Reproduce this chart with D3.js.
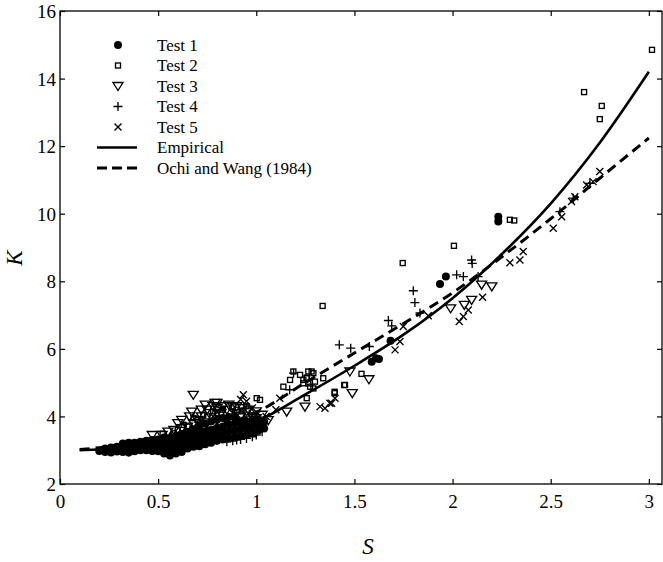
<!DOCTYPE html>
<html>
<head>
<meta charset="utf-8">
<script src="https://cdn.jsdelivr.net/npm/d3@7"></script>
<style>
  html, body { margin: 0; padding: 0; background: #fff; }
  svg { display: block; }
  text { font-family: "Liberation Serif", "Times New Roman", serif; fill: #000; }
</style>
</head>
<body>
<svg id="chart" width="663" height="562"></svg>
<script>
// ---------------- DATA ----------------
const xTicks = [0, 0.5, 1, 1.5, 2, 2.5, 3];
const xTickLabels = ["0", "0.5", "1", "1.5", "2", "2.5", "3"];
const yTicks = [2, 4, 6, 8, 10, 12, 14, 16];
const yTickLabels = ["2", "4", "6", "8", "10", "12", "14", "16"];

const seriesNames = ["Test 1", "Test 2", "Test 3", "Test 4", "Test 5", "Empirical", "Ochi and Wang (1984)"];

// Test 1 (filled circles) [S, K]
const test1 = [
  [0.20,2.98],[0.23,2.95],[0.23,3.05],[0.26,2.93],[0.26,3.08],[0.29,2.96],[0.29,3.1],
  [0.32,2.95],[0.32,3.08],[0.32,3.2],[0.35,2.93],[0.35,3.05],[0.35,3.22],[0.38,2.97],[0.38,3.1],[0.38,3.22],
  [0.41,3.0],[0.41,3.12],[0.41,3.25],[0.44,3.0],[0.44,3.12],[0.44,3.28],[0.47,2.98],[0.47,3.15],[0.47,3.3],
  [0.50,2.97],[0.50,3.12],[0.50,3.32],[0.53,2.9],[0.53,3.05],[0.53,3.2],[0.53,3.38],
  [0.56,2.84],[0.56,2.98],[0.56,3.15],[0.56,3.35],[0.59,2.9],[0.59,3.05],[0.59,3.22],[0.59,3.42],
  [0.62,2.95],[0.62,3.1],[0.62,3.28],[0.62,3.48],[0.65,3.05],[0.65,3.2],[0.65,3.36],[0.65,3.55],
  [0.68,3.1],[0.68,3.25],[0.68,3.42],[0.68,3.62],[0.71,3.12],[0.71,3.3],[0.71,3.5],[0.71,3.7],
  [0.74,3.18],[0.74,3.35],[0.74,3.55],[0.74,3.78],[0.77,3.22],[0.77,3.4],[0.77,3.6],[0.77,3.85],
  [0.80,3.28],[0.80,3.45],[0.80,3.65],[0.80,3.9],[0.83,3.32],[0.83,3.5],[0.83,3.7],[0.83,3.95],
  [0.86,3.35],[0.86,3.55],[0.86,3.75],[0.86,3.98],[0.89,3.38],[0.89,3.58],[0.89,3.8],[0.89,4.0],
  [0.92,3.42],[0.92,3.62],[0.92,3.82],[0.95,3.45],[0.95,3.65],[0.95,3.85],[0.98,3.5],[0.98,3.7],[0.98,3.9],
  [1.01,3.58],[1.01,3.75],[1.01,3.92],[1.04,3.65],[1.04,3.85],
  [1.588,5.62],[1.61,5.72],[1.625,5.70],[1.684,6.24],[1.936,7.92],[1.966,8.14],[2.233,9.91],[2.233,9.77]
];
// Test 2 (open squares)
const test2 = [
  [0.523,3.49],[0.58,3.5],[0.60,3.6],[0.63,3.75],[0.65,3.7],[0.68,3.95],[0.70,3.9],[0.73,4.05],[0.75,4.0],
  [0.78,4.15],[0.80,4.1],[0.83,4.2],[0.85,3.9],[0.88,4.3],[0.90,4.2],[0.93,4.15],[0.95,4.3],[0.98,4.0],
  [1.002,4.54],[1.019,4.49],[1.138,4.88],[1.172,5.08],[1.189,5.33],[1.223,5.23],[1.24,4.98],[1.24,5.08],[1.257,5.13],
  [1.257,5.15],[1.257,4.54],[1.265,5.33],[1.265,4.98],[1.274,4.88],[1.282,5.33],[1.291,5.28],[1.291,4.83],[1.299,5.03],
  [1.341,5.13],[1.40,4.69],[1.452,4.93],[1.338,7.27],[1.399,4.73],[1.448,4.93],[1.536,5.26],
  [1.746,8.54],[2.007,9.05],[2.292,9.82],[2.314,9.80],[2.67,13.6],[2.76,13.19],[2.75,12.8],[3.016,14.85]
];
// Test 3 (open down-triangles)
const test3 = [
  [0.47,3.45],[0.52,3.45],[0.55,3.55],[0.58,3.6],[0.60,3.8],[0.62,3.65],[0.62,3.9],[0.65,3.7],[0.66,4.0],[0.671,4.14],
  [0.679,4.64],[0.68,3.8],[0.70,3.9],[0.72,4.0],[0.72,4.2],[0.74,4.35],[0.75,4.2],[0.76,4.1],[0.78,4.3],[0.79,4.4],
  [0.80,4.25],[0.80,4.4],[0.82,4.1],[0.83,4.3],[0.85,4.2],[0.85,3.9],[0.86,4.35],[0.88,4.3],[0.90,4.1],[0.90,4.3],
  [0.92,4.0],[0.93,4.25],[0.95,4.15],[0.96,4.2],[0.98,4.0],[1.00,3.95],[1.00,4.15],[1.03,4.05],
  [1.061,3.89],[1.155,4.14],[1.248,4.29],[1.477,5.33],[1.489,4.69],[1.574,5.1],
  [1.99,7.2],[2.06,7.3],[2.097,7.45],[2.148,7.9],[2.20,7.85]
];
// Test 4 (plus)
const test4 = [
  [0.30,3.0],[0.35,2.95],[0.40,3.05],[0.45,3.05],[0.50,3.0],[0.55,3.05],[0.60,3.1],[0.60,3.4],[0.65,3.15],[0.70,3.2],
  [0.70,3.5],[0.75,3.25],[0.75,3.6],[0.80,3.3],[0.80,3.7],[0.85,3.25],[0.88,3.28],[0.90,3.3],[0.92,3.32],[0.95,3.35],
  [0.98,3.4],[1.00,3.45],[1.03,3.55],
  [1.17,4.79],[1.19,5.28],[1.423,6.12],[1.481,6.02],[1.576,6.07],[1.673,6.84],[1.69,6.68],[1.80,7.72],[1.808,7.37],
  [1.834,7.06],[2.021,8.19],[2.055,8.14],[2.097,8.63],[2.10,8.53],[2.13,8.14],[2.547,10.06],[2.615,10.46],[2.70,10.9]
];
// Test 5 (crosses)
const test5 = [
  [0.50,3.3],[0.55,3.4],[0.60,3.5],[0.65,3.55],[0.70,3.6],[0.72,3.85],[0.75,3.7],[0.78,4.0],[0.80,3.8],[0.82,4.2],
  [0.85,3.85],[0.88,4.1],[0.90,3.9],[0.92,4.5],[0.934,4.64],[0.95,4.45],[0.95,3.95],[0.98,4.25],[1.00,3.9],
  [1.05,4.0],[1.10,4.2],[1.12,4.54],
  [1.325,4.29],[1.35,4.24],[1.375,4.39],[1.384,4.39],[1.401,4.54],[1.707,5.97],[1.732,6.22],[1.749,6.66],[1.876,6.98],
  [2.034,6.81],[2.055,6.96],[2.08,7.15],[2.153,7.53],[2.292,8.55],[2.343,8.63],[2.36,8.88],[2.513,9.57],[2.556,9.91],
  [2.606,10.36],[2.623,10.5],[2.683,10.85],[2.716,10.95],[2.75,11.25]
];
// Empirical curve
const empirical = [
  [0.1,3.0],[0.3,3.06],[0.5,3.18],[0.75,3.45],[1.0,3.85],[1.25,4.65],[1.5,5.5],[1.75,6.42],
  [2.0,7.5],[2.25,8.8],[2.5,10.3],[2.75,12.1],[3.0,14.2]
];
// Ochi and Wang (1984) curve
const ochiWang = [
  [0.1,3.02],[0.5,3.3],[0.75,3.62],[1.0,4.12],[1.25,5.0],[1.5,5.88],[1.75,6.75],[2.0,7.66],
  [2.25,8.72],[2.5,9.85],[2.75,11.05],[3.0,12.24]
];

// ---------------- CHART ----------------
const svg = d3.select("#chart");
const mLeft = 60, mRight = 662, mTop = 11, mBottom = 484;
const x = d3.scaleLinear().domain([0, 3.067]).range([mLeft, mRight]);
const y = d3.scaleLinear().domain([2, 16]).range([mBottom, mTop]);

const fontTick = 19;

// frame
svg.append("rect").attr("x", mLeft).attr("y", mTop).attr("width", mRight - mLeft).attr("height", mBottom - mTop)
  .attr("fill", "none").attr("stroke", "#000").attr("stroke-width", 1.3);

// axes (inward ticks)
const gx = svg.append("g").attr("transform", `translate(0,${mBottom})`)
  .call(d3.axisBottom(x).tickValues(xTicks).tickSize(-5).tickFormat((d, i) => xTickLabels[i]).tickPadding(11));
const gxTop = svg.append("g").attr("transform", `translate(0,${mTop})`)
  .call(d3.axisTop(x).tickValues(xTicks).tickSize(-5).tickFormat(""));
const gy = svg.append("g").attr("transform", `translate(${mLeft},0)`)
  .call(d3.axisLeft(y).tickValues(yTicks).tickSize(-5).tickFormat((d, i) => yTickLabels[i]).tickPadding(4));
const gyR = svg.append("g").attr("transform", `translate(${mRight},0)`)
  .call(d3.axisRight(y).tickValues(yTicks).tickSize(-5).tickFormat(""));
[gx, gxTop, gy, gyR].forEach(g => {
  g.select(".domain").remove();
  g.selectAll(".tick line").attr("stroke", "#000").attr("stroke-width", 1.2);
  g.selectAll("text").style("font-family", '"Liberation Serif", serif').style("font-size", fontTick + "px").attr("fill", "#000");
});
gy.selectAll("text").attr("dy", "0.35em");

// axis labels
svg.append("text").attr("x", 368).attr("y", 554).attr("text-anchor", "middle")
  .style("font-size", "23px").style("font-style", "italic").text("S");
svg.append("text").attr("transform", "translate(22,258) rotate(-90)").attr("text-anchor", "middle")
  .style("font-size", "23px").style("font-style", "italic").text("K");

// curves
const line = d3.line().x(d => x(d[0])).y(d => y(d[1])).curve(d3.curveMonotoneX);
svg.append("path").datum(empirical).attr("d", line).attr("fill", "none").attr("stroke", "#000").attr("stroke-width", 2.6);
svg.append("path").datum(ochiWang).attr("d", line).attr("fill", "none").attr("stroke", "#000").attr("stroke-width", 3)
  .attr("stroke-dasharray", "10,6");

// marker drawing helpers
const sw = 1.35;
function drawCircle(g, cx, cy) {
  g.append("circle").attr("cx", cx).attr("cy", cy).attr("r", 4).attr("fill", "#000");
}
function drawSquare(g, cx, cy) {
  g.append("rect").attr("x", cx - 2.5).attr("y", cy - 2.5).attr("width", 5).attr("height", 5)
    .attr("fill", "none").attr("stroke", "#000").attr("stroke-width", sw);
}
function drawTri(g, cx, cy) {
  const s = 5;
  g.append("path").attr("d", `M${cx - s},${cy - s * 0.7}L${cx + s},${cy - s * 0.7}L${cx},${cy + s * 0.9}Z`)
    .attr("fill", "none").attr("stroke", "#000").attr("stroke-width", sw);
}
function drawPlus(g, cx, cy) {
  const s = 4.5;
  g.append("path").attr("d", `M${cx - s},${cy}L${cx + s},${cy}M${cx},${cy - s}L${cx},${cy + s}`)
    .attr("stroke", "#000").attr("stroke-width", sw);
}
function drawX(g, cx, cy) {
  const s = 3.5;
  g.append("path").attr("d", `M${cx - s},${cy - s}L${cx + s},${cy + s}M${cx - s},${cy + s}L${cx + s},${cy - s}`)
    .attr("stroke", "#000").attr("stroke-width", sw);
}

const pts = svg.append("g");
const groups = [[test3, drawTri], [test2, drawSquare], [test5, drawX], [test4, drawPlus], [test1, drawCircle]];
groups.forEach(([data, fn]) => {
  const g = pts.append("g");
  data.forEach(d => fn(g, x(d[0]), y(d[1])));
});

// legend
const leg = svg.append("g");
const legX = 118, legText = 157, legY0 = 45, legDy = 20.5;
const markerFns = [drawCircle, drawSquare, drawTri, drawPlus, drawX];
seriesNames.forEach((name, i) => {
  const cy = legY0 + i * legDy;
  if (i < 5) {
    markerFns[i](leg, legX, cy);
  } else if (i === 5) {
    leg.append("line").attr("x1", 97).attr("x2", 137).attr("y1", cy).attr("y2", cy)
      .attr("stroke", "#000").attr("stroke-width", 2.6);
  } else {
    leg.append("line").attr("x1", 97).attr("x2", 137).attr("y1", cy).attr("y2", cy)
      .attr("stroke", "#000").attr("stroke-width", 3).attr("stroke-dasharray", "10,5");
  }
  leg.append("text").attr("x", legText).attr("y", cy).attr("dy", "0.35em")
    .style("font-size", "17px").text(name);
});
</script>
</body>
</html>
